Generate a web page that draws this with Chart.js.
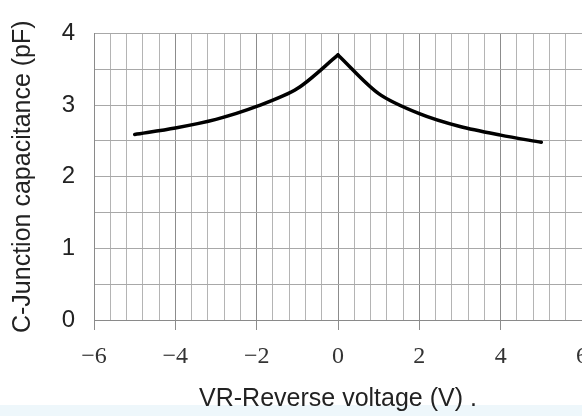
<!DOCTYPE html>
<html>
<head>
<meta charset="utf-8">
<script src="https://cdn.jsdelivr.net/npm/chart.js@4.4.1/dist/chart.umd.min.js"></script>
<style>
    html, body { margin: 0; padding: 0; overflow: hidden; }
    body {
        width: 582px; height: 416px;
        background: linear-gradient(to bottom, #ffffff 405px, #eef7fb 405px);
    }
    #wrap { position: absolute; left: 0; top: 0; }
</style>
</head>
<body>
<div id="wrap"><canvas id="cjChart" width="600" height="416"></canvas></div>
<script>
// Reverse voltage (V) and junction capacitance (pF)
const voltage = [-5, -4, -3, -2, -1, 0, 1, 2, 3, 4, 5];
const capacitance = [2.59, 2.68, 2.80, 2.98, 3.23, 3.70, 3.16, 2.88, 2.70, 2.58, 2.48];

const xTicks = { min: -6, max: 6, minor: 0.4, major: 2 };
const yTicks = { min: 0, max: 4, step: 0.5 };

// Split at the peak so the cusp at 0 V stays sharp
const points = voltage.map((v, i) => ({ x: v, y: capacitance[i] }));
const leftSide = points.filter(p => p.x <= 0);
const rightSide = points.filter(p => p.x >= 0);

function isMajor(value, every) {
    const q = value / every;
    return Math.abs(q - Math.round(q)) < 1e-6;
}

function lineSet(data) {
    return {
        data: data,
        borderColor: '#000000',
        borderWidth: 3.5,
        borderCapStyle: 'round',
        borderJoinStyle: 'round',
        pointRadius: 0,
        tension: 0.3,
        fill: false
    };
}

new Chart(document.getElementById('cjChart'), {
    type: 'line',
    data: { datasets: [lineSet(leftSide), lineSet(rightSide)] },
    options: {
        responsive: false,
        animation: false,
        layout: { padding: { top: 23, right: 14, bottom: 0, left: 0 } },
        plugins: { legend: { display: false }, tooltip: { enabled: false } },
        scales: {
            x: {
                type: 'linear',
                min: xTicks.min,
                max: xTicks.max,
                afterFit: scale => { scale.height = 96; },
                border: { display: true, color: '#8a8a8a' },
                grid: {
                    color: ctx => isMajor(ctx.tick.value, xTicks.major) ? '#8c8c8c' : '#b4b4b4',
                    tickColor: ctx => isMajor(ctx.tick.value, xTicks.major) ? '#8c8c8c' : 'rgba(0,0,0,0)',
                    tickLength: 10,
                    drawTicks: true
                },
                ticks: {
                    stepSize: xTicks.minor,
                    autoSkip: false,
                    maxRotation: 0,
                    padding: 12,
                    color: '#333333',
                    font: { family: 'Liberation Serif', size: 24 },
                    callback: value => {
                        if (!isMajor(value, xTicks.major)) return '';
                        const r = Math.round(value);
                        return r < 0 ? '\u2212' + (-r) : String(r);
                    }
                },
                title: {
                    display: true,
                    text: 'VR-Reverse voltage (V) .',
                    color: '#222222',
                    font: { family: 'Liberation Sans', size: 25, lineHeight: 1.2 },
                    padding: { top: 0, bottom: 2 }
                }
            },
            y: {
                min: yTicks.min,
                max: yTicks.max,
                afterFit: scale => { scale.width = 94; },
                border: { display: true, color: '#8a8a8a' },
                grid: { color: '#a8a8a8', drawTicks: false },
                ticks: {
                    stepSize: yTicks.step,
                    autoSkip: false,
                    padding: 19,
                    color: '#222222',
                    font: { family: 'Liberation Sans', size: 24 },
                    callback: value => isMajor(value, 1) ? String(Math.round(value)) : ''
                },
                title: {
                    display: true,
                    text: 'C-Junction capacitance (pF)',
                    color: '#222222',
                    font: { family: 'Liberation Sans', size: 25, lineHeight: 1.2 },
                    padding: { top: 8, bottom: 0 }
                }
            }
        }
    }
});
</script>
</body>
</html>
